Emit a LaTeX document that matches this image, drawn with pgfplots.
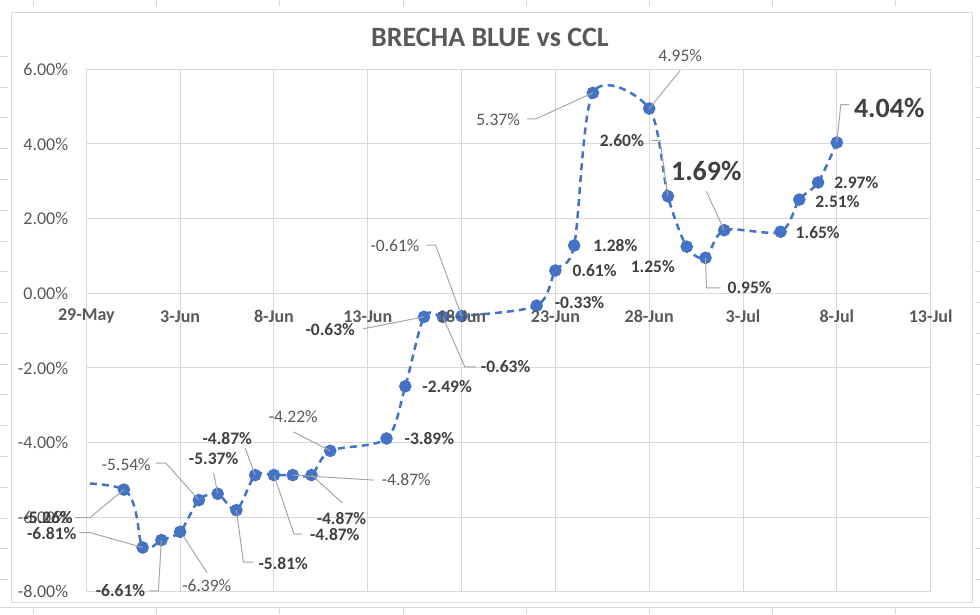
\documentclass[border=0pt]{standalone}
\usepackage{pgfplots}
\pgfplotsset{compat=1.18}
\usepackage{fontspec}
\setmainfont{Carlito}
\definecolor{blu}{HTML}{4472C4}
\definecolor{gridc}{HTML}{D9D9D9}
\definecolor{txt}{HTML}{595959}
\definecolor{txtb}{HTML}{404040}
\definecolor{lead}{HTML}{A6A6A6}
\newcommand\lfnt{\fontsize{17.5bp}{20bp}\selectfont}
\newcommand\bigfnt{\fontsize{28bp}{30bp}\selectfont\bfseries}
\begin{document}
\begin{tikzpicture}[
  ln/.style={font=\lfnt, text=txt, inner sep=0pt},
  lb/.style={font=\lfnt\bfseries, text=txtb, inner sep=0pt},
  lbig/.style={font=\bigfnt, text=txtb, inner sep=0pt},
  xl/.style={font=\fontsize{18bp}{20bp}\selectfont\bfseries, text=txt, inner sep=0pt, yshift=-23bp},
  ld/.style={draw=lead, line width=1bp}]
\path[fill=white] (0,0) rectangle (980bp,614bp);
% spreadsheet fragments
\foreach \yy in {56,86.8,117.6,148.4,179.2,210,240.8,271.6,302.4,333.2,364,394.8,425.6,456.4,487.2,518,548.8,579.6}{
  \draw[gridc, line width=0.8bp] (0bp,614bp-\yy bp) -- (8bp,614bp-\yy bp);
  \draw[gridc, line width=0.8bp] (975bp,614bp-\yy bp) -- (980bp,614bp-\yy bp);}
\foreach \xx in {33,156,279,403,526,650,773,896}{
  \draw[gridc, line width=0.8bp] (\xx bp,614bp) -- (\xx bp,608bp);
  \draw[gridc, line width=0.8bp] (\xx bp,7bp) -- (\xx bp,0bp);}
\draw[gridc, line width=0.8bp] (0bp,7bp) -- (980bp,7bp);
\draw[gridc, line width=1bp, fill=white] (11bp,11bp) rectangle (973bp,602bp);
\begin{axis}[
  at={(86bp,22bp)}, anchor=south west,
  scale only axis, width=845bp, height=523bp,
  xmin=0, xmax=45, ymin=-8, ymax=6,
  xtick={0,5,...,45}, xticklabels={},
  ytick={-8,-6,...,6},
  yticklabels={-8.00\%,-6.00\%,-4.00\%,-2.00\%,0.00\%,2.00\%,4.00\%,6.00\%},
  yticklabel style={font=\fontsize{18bp}{20bp}\selectfont, text=txt, inner sep=0pt, xshift=-18bp},
  grid=major, major grid style={draw=gridc, line width=1bp},
  axis line style={draw=none}, major tick length=0pt,
  clip mode=individual,
  title={BRECHA BLUE vs CCL},
  title style={at={(0.478,1)}, anchor=center, yshift=26bp, font=\fontsize{28bp}{30bp}\selectfont\bfseries, text=txt},
]
\addplot[color=blu, line width=2.5bp, dash pattern=on 7bp off 5bp, smooth,
  mark=*, mark size=5bp, mark options={solid, fill=blu, draw=blu}] coordinates {
(-3,-5.06) (2,-5.26) (3,-6.81) (4,-6.61) (5,-6.39) (6,-5.54) (7,-5.37) (8,-5.81)
(9,-4.87) (10,-4.87) (11,-4.87) (12,-4.87) (13,-4.22) (16,-3.89) (17,-2.49)
(18,-0.63) (19,-0.63) (20,-0.61) (24,-0.33) (25,0.61) (26,1.28) (27,5.37)
(30,4.95) (31,2.60) (32,1.25) (33,0.95) (34,1.69) (37,1.65) (38,2.51) (39,2.97) (40,4.04)};
% x tick labels
\node[xl] at (axis cs:0,0) {29-May};
\node[xl] at (axis cs:5,0) {3-Jun};
\node[xl] at (axis cs:10,0) {8-Jun};
\node[xl] at (axis cs:15,0) {13-Jun};
\node[xl] at (axis cs:20,0) {18-Jun};
\node[xl] at (axis cs:25,0) {23-Jun};
\node[xl] at (axis cs:30,0) {28-Jun};
\node[xl] at (axis cs:35,0) {3-Jul};
\node[xl] at (axis cs:40,0) {8-Jul};
\node[xl] at (axis cs:45,0) {13-Jul};
% data labels
\draw[ld] (axis cs:2,-5.26) -- ++(-34bp,-28bp) -- ++(-15bp,0bp);
\node[ln, anchor=east, xshift=-51bp, yshift=-28bp] at (axis cs:2,-5.26) {-5.06\%};
\node[lb, anchor=east, xshift=-51bp, yshift=-28bp] at (axis cs:2,-5.26) {-5.26\%};
\draw[ld] (axis cs:3,-6.81) -- ++(-53bp,15bp) -- ++(-10bp,0bp);
\node[lb, anchor=east, xshift=-66bp, yshift=14bp] at (axis cs:3,-6.81) {-6.81\%};
\draw[ld] (axis cs:6,-5.54) -- ++(-33bp,37bp) -- ++(-10bp,0bp);
\node[ln, anchor=east, xshift=-48bp, yshift=36bp] at (axis cs:6,-5.54) {-5.54\%};
\draw[ld] (axis cs:4,-6.61) -- ++(-3bp,-51bp) -- ++(-9bp,0bp);
\node[lb, anchor=east, xshift=-16bp, yshift=-51bp] at (axis cs:4,-6.61) {-6.61\%};
\draw[ld] (axis cs:5,-6.39) ++(3bp,-4bp) -- ++(24bp,-37bp);
\node[ln, anchor=west, xshift=2bp, yshift=-54bp] at (axis cs:5,-6.39) {-6.39\%};
\draw[ld] (axis cs:7,-5.37) -- ++(-4bp,21bp);
\node[lb, xshift=-4bp, yshift=35bp] at (axis cs:7,-5.37) {-5.37\%};
\draw[ld] (axis cs:8,-5.81) -- ++(7bp,-52bp) -- ++(10bp,0bp);
\node[lb, anchor=west, xshift=22bp, yshift=-53bp] at (axis cs:8,-5.81) {-5.81\%};
\draw[ld] (axis cs:9,-4.87) -- ++(-10bp,27bp);
\node[lb, xshift=-28bp, yshift=37bp] at (axis cs:9,-4.87) {-4.87\%};
\draw[ld] (axis cs:10,-4.87) -- ++(20bp,-59bp) -- ++(8bp,0bp);
\node[lb, anchor=west, xshift=36bp, yshift=-60bp] at (axis cs:10,-4.87) {-4.87\%};
\draw[ld] (axis cs:12,-4.87) -- ++(31bp,-28bp);
\node[lb, xshift=30bp, yshift=-43bp] at (axis cs:12,-4.87) {-4.87\%};
\draw[ld] (axis cs:11,-4.87) -- ++(81bp,-5bp);
\node[ln, anchor=west, xshift=89bp, yshift=-5bp] at (axis cs:11,-4.87) {-4.87\%};
\draw[ld] (axis cs:13,-4.22) -- ++(-37bp,19bp);
\node[ln, xshift=-37bp, yshift=34bp] at (axis cs:13,-4.22) {-4.22\%};
\node[lb, anchor=west, xshift=18bp] at (axis cs:16,-3.89) {-3.89\%};
\node[lb, anchor=west, xshift=17bp] at (axis cs:17,-2.49) {-2.49\%};
\draw[ld] (axis cs:18,-0.63) -- ++(-61bp,-12bp);
\node[lb, anchor=east, xshift=-69bp, yshift=-13bp] at (axis cs:18,-0.63) {-0.63\%};
\draw[ld] (axis cs:19,-0.63) -- ++(22bp,-50bp) -- ++(11bp,0bp);
\node[lb, anchor=west, xshift=38bp, yshift=-50bp] at (axis cs:19,-0.63) {-0.63\%};
\draw[ld] (axis cs:20,-0.61) -- ++(-26bp,71bp) -- ++(-9bp,0bp);
\node[ln, anchor=east, xshift=-42bp, yshift=71bp] at (axis cs:20,-0.61) {-0.61\%};
\node[lb, anchor=west, xshift=18bp, yshift=3bp] at (axis cs:24,-0.33) {-0.33\%};
\node[lb, anchor=west, xshift=17bp] at (axis cs:25,0.61) {0.61\%};
\node[lb, anchor=west, xshift=19bp] at (axis cs:26,1.28) {1.28\%};
\draw[ld] (axis cs:27,5.37) -- ++(-57bp,-26bp) -- ++(-9bp,0bp);
\node[ln, anchor=east, xshift=-73bp, yshift=-27bp] at (axis cs:27,5.37) {5.37\%};
\draw[ld] (axis cs:30,4.95) -- ++(31bp,38bp);
\node[ln, xshift=31bp, yshift=53bp] at (axis cs:30,4.95) {4.95\%};
\draw[ld] (axis cs:31,2.60) -- ++(-8bp,56bp) -- ++(-8bp,0bp);
\node[lb, anchor=east, xshift=-24bp, yshift=56bp] at (axis cs:31,2.60) {2.60\%};
\draw[ld] (axis cs:34,1.69) -- ++(-18bp,39bp);
\node[lbig, xshift=-18bp, yshift=59bp] at (axis cs:34,1.69) {1.69\%};
\node[lb, xshift=-34bp, yshift=-20bp] at (axis cs:32,1.25) {1.25\%};
\draw[ld] (axis cs:33,0.95) -- ++(1bp,-30bp) -- ++(14bp,0bp);
\node[lb, anchor=west, xshift=22bp, yshift=-30bp] at (axis cs:33,0.95) {0.95\%};
\node[lb, anchor=west, xshift=15bp, yshift=-1bp] at (axis cs:37,1.65) {1.65\%};
\node[lb, anchor=west, xshift=16bp, yshift=-2bp] at (axis cs:38,2.51) {2.51\%};
\node[lb, anchor=west, xshift=16bp] at (axis cs:39,2.97) {2.97\%};
\draw[ld] (axis cs:40,4.04) -- ++(4bp,38bp) -- ++(8bp,0bp);
\node[lbig, anchor=west, xshift=17bp, yshift=35bp] at (axis cs:40,4.04) {4.04\%};
\end{axis}
\end{tikzpicture}
\end{document}
